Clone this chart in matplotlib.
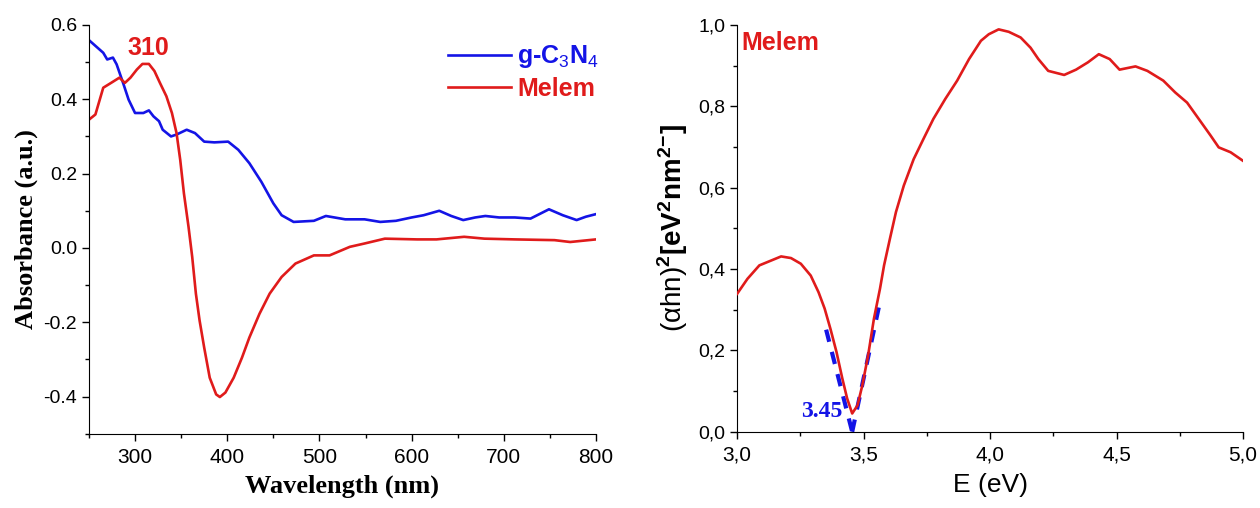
import numpy as np
import matplotlib
matplotlib.use('Agg')
import matplotlib.pyplot as plt
from matplotlib.ticker import MultipleLocator, FormatStrFormatter, FuncFormatter

# g-C3N4 absorbance
wl_g = [250, 265.5, 269.8, 276, 280, 287, 293, 300, 309, 315, 320, 326, 330, 339, 345,
        356, 365, 375, 386, 401, 412, 424, 437, 450, 459, 472, 494, 507, 528, 549, 566,
        583, 600, 613, 630, 643, 656, 669, 680, 695, 712, 729, 749, 764, 779, 789, 800]
abs_g = [0.559, 0.525, 0.507, 0.512, 0.494, 0.444, 0.399, 0.363, 0.363, 0.370, 0.354,
         0.341, 0.318, 0.300, 0.305, 0.318, 0.309, 0.286, 0.284, 0.286, 0.264, 0.228,
         0.178, 0.120, 0.088, 0.070, 0.073, 0.086, 0.077, 0.077, 0.070, 0.073, 0.082,
         0.088, 0.100, 0.086, 0.075, 0.082, 0.086, 0.082, 0.082, 0.079, 0.104, 0.088,
         0.075, 0.084, 0.091]

# Melem absorbance
wl_m = [250, 257, 265.5, 274, 283, 289, 295, 302, 308, 315, 321, 327, 334, 340, 345,
        349, 353, 358, 362, 366, 370, 375, 381, 388, 392, 398, 407, 416, 424, 435, 446,
        459, 474, 494, 511, 533, 549, 571, 606, 627, 657, 679, 712, 755, 772, 800]
abs_m = [0.345, 0.359, 0.431, 0.444, 0.458, 0.444, 0.458, 0.480, 0.495, 0.495, 0.476,
         0.444, 0.408, 0.363, 0.309, 0.237, 0.147, 0.057, -0.024, -0.123, -0.195,
         -0.268, -0.349, -0.394, -0.401, -0.389, -0.349, -0.295, -0.241, -0.177,
         -0.123, -0.078, -0.042, -0.020, -0.020, 0.003, 0.012, 0.025, 0.023, 0.023,
         0.030, 0.025, 0.023, 0.021, 0.016, 0.023]

# Tauc plot, Melem
e_ev = [3.0, 3.041, 3.088, 3.135, 3.174, 3.213, 3.252, 3.291, 3.322, 3.346, 3.369, 3.393,
        3.416, 3.435, 3.455, 3.476, 3.495, 3.518, 3.541, 3.565, 3.581, 3.604, 3.628,
        3.659, 3.698, 3.737, 3.776, 3.823, 3.870, 3.917, 3.964, 3.995, 4.034, 4.074,
        4.121, 4.160, 4.191, 4.230, 4.293, 4.340, 4.387, 4.430, 4.473, 4.512, 4.575,
        4.622, 4.685, 4.732, 4.779, 4.825, 4.872, 4.904, 4.951, 5.0]
tauc = [0.339, 0.376, 0.409, 0.421, 0.431, 0.427, 0.413, 0.384, 0.343, 0.303, 0.253,
        0.196, 0.131, 0.082, 0.045, 0.065, 0.114, 0.188, 0.278, 0.352, 0.409, 0.474,
        0.540, 0.605, 0.670, 0.720, 0.769, 0.818, 0.863, 0.916, 0.961, 0.977, 0.989,
        0.983, 0.969, 0.944, 0.916, 0.887, 0.877, 0.890, 0.908, 0.928, 0.916, 0.890,
        0.898, 0.887, 0.863, 0.834, 0.809, 0.769, 0.728, 0.699, 0.687, 0.666]

# band-gap tangent lines
fit_left_x = [3.352, 3.455]
fit_left_y = [0.251, 0.0]
fit_right_x = [3.455, 3.565]
fit_right_y = [0.0, 0.32]

BLUE = '#1414e6'
RED = '#e01b1b'
SANS = 'Liberation Sans'
SERIF = 'Liberation Serif'

plt.rcParams['font.family'] = SANS
plt.rcParams['mathtext.fontset'] = 'custom'
plt.rcParams['mathtext.rm'] = SANS
plt.rcParams['mathtext.bf'] = SANS + ':bold'

fig = plt.figure(figsize=(12.6, 5.08), dpi=100)
ax1 = fig.add_axes([0.0706, 0.146, 0.4024, 0.805])
ax2 = fig.add_axes([0.585, 0.150, 0.4015, 0.801])

for ax in (ax1, ax2):
    ax.spines['top'].set_visible(False)
    ax.spines['right'].set_visible(False)
    ax.tick_params(which='major', direction='out', length=5, width=1)
    ax.tick_params(which='minor', direction='out', length=3, width=1)
    ax.tick_params(axis='x', labelsize=15, pad=5)
    ax.tick_params(axis='y', labelsize=14)

# left panel
ax1.plot(wl_g, abs_g, color=BLUE, lw=1.9, label='g-C$_3$N$_4$')
ax1.plot(wl_m, abs_m, color=RED, lw=1.9, label='Melem')
ax1.set_xlim(250, 800)
ax1.set_ylim(-0.5, 0.6)
ax1.xaxis.set_major_locator(MultipleLocator(100))
ax1.xaxis.set_minor_locator(MultipleLocator(50))
ax1.yaxis.set_major_locator(MultipleLocator(0.2))
ax1.yaxis.set_minor_locator(MultipleLocator(0.1))
ax1.yaxis.set_major_formatter(FormatStrFormatter('%.1f'))
ax1.set_xticks([300, 400, 500, 600, 700, 800])
ax1.set_xlabel('Wavelength (nm)', family=SERIF, fontweight='bold', fontsize=19, labelpad=6)
ax1.set_ylabel('Absorbance (a.u.)', family=SERIF, fontweight='bold', fontsize=19, labelpad=4)
ax1.text(314, 0.538, '310', color=RED, fontsize=18, fontweight='bold', ha='center', va='center')
leg = ax1.legend(loc='upper right', bbox_to_anchor=(1.05, 1.01), frameon=False,
                 handlelength=2.5, handletextpad=0.25, labelspacing=0.25,
                 prop={'family': SANS, 'weight': 'bold', 'size': 18})
for txt, c in zip(leg.get_texts(), [BLUE, RED]):
    txt.set_color(c)

# right panel
ax2.plot(e_ev, tauc, color=RED, lw=1.9, zorder=3)
ax2.plot(fit_left_x, fit_left_y, color=BLUE, lw=3, ls=(0, (3, 2.5)), zorder=2, clip_on=False)
ax2.plot(fit_right_x, fit_right_y, color=BLUE, lw=3, ls=(0, (3, 2.5)), zorder=2, clip_on=False)
ax2.set_xlim(3.0, 5.0)
ax2.set_ylim(0.0, 1.0)
ax2.xaxis.set_major_locator(MultipleLocator(0.5))
ax2.xaxis.set_minor_locator(MultipleLocator(0.25))
ax2.yaxis.set_major_locator(MultipleLocator(0.2))
ax2.yaxis.set_minor_locator(MultipleLocator(0.1))
comma = FuncFormatter(lambda v, p: ('%.1f' % v).replace('.', ','))
ax2.xaxis.set_major_formatter(comma)
ax2.yaxis.set_major_formatter(comma)
ax2.set_xlabel('E (eV)', fontsize=19, labelpad=6)
ax2.set_ylabel(r'$\mathrm{(\alpha hn)}^{\mathbf{2}}$$\mathbf{[eV^{2}nm^{2}}$$^{\mathbf{-}}$$\mathbf{]}$',
               fontsize=20, labelpad=6)
ax2.text(3.015, 0.955, 'Melem', color=RED, fontsize=18, fontweight='bold', ha='left', va='center')
ax2.text(3.415, 0.05, '3.45', color=BLUE, family=SERIF, fontsize=17, fontweight='bold',
         ha='right', va='center')

fig.savefig('out.png', dpi=100)
